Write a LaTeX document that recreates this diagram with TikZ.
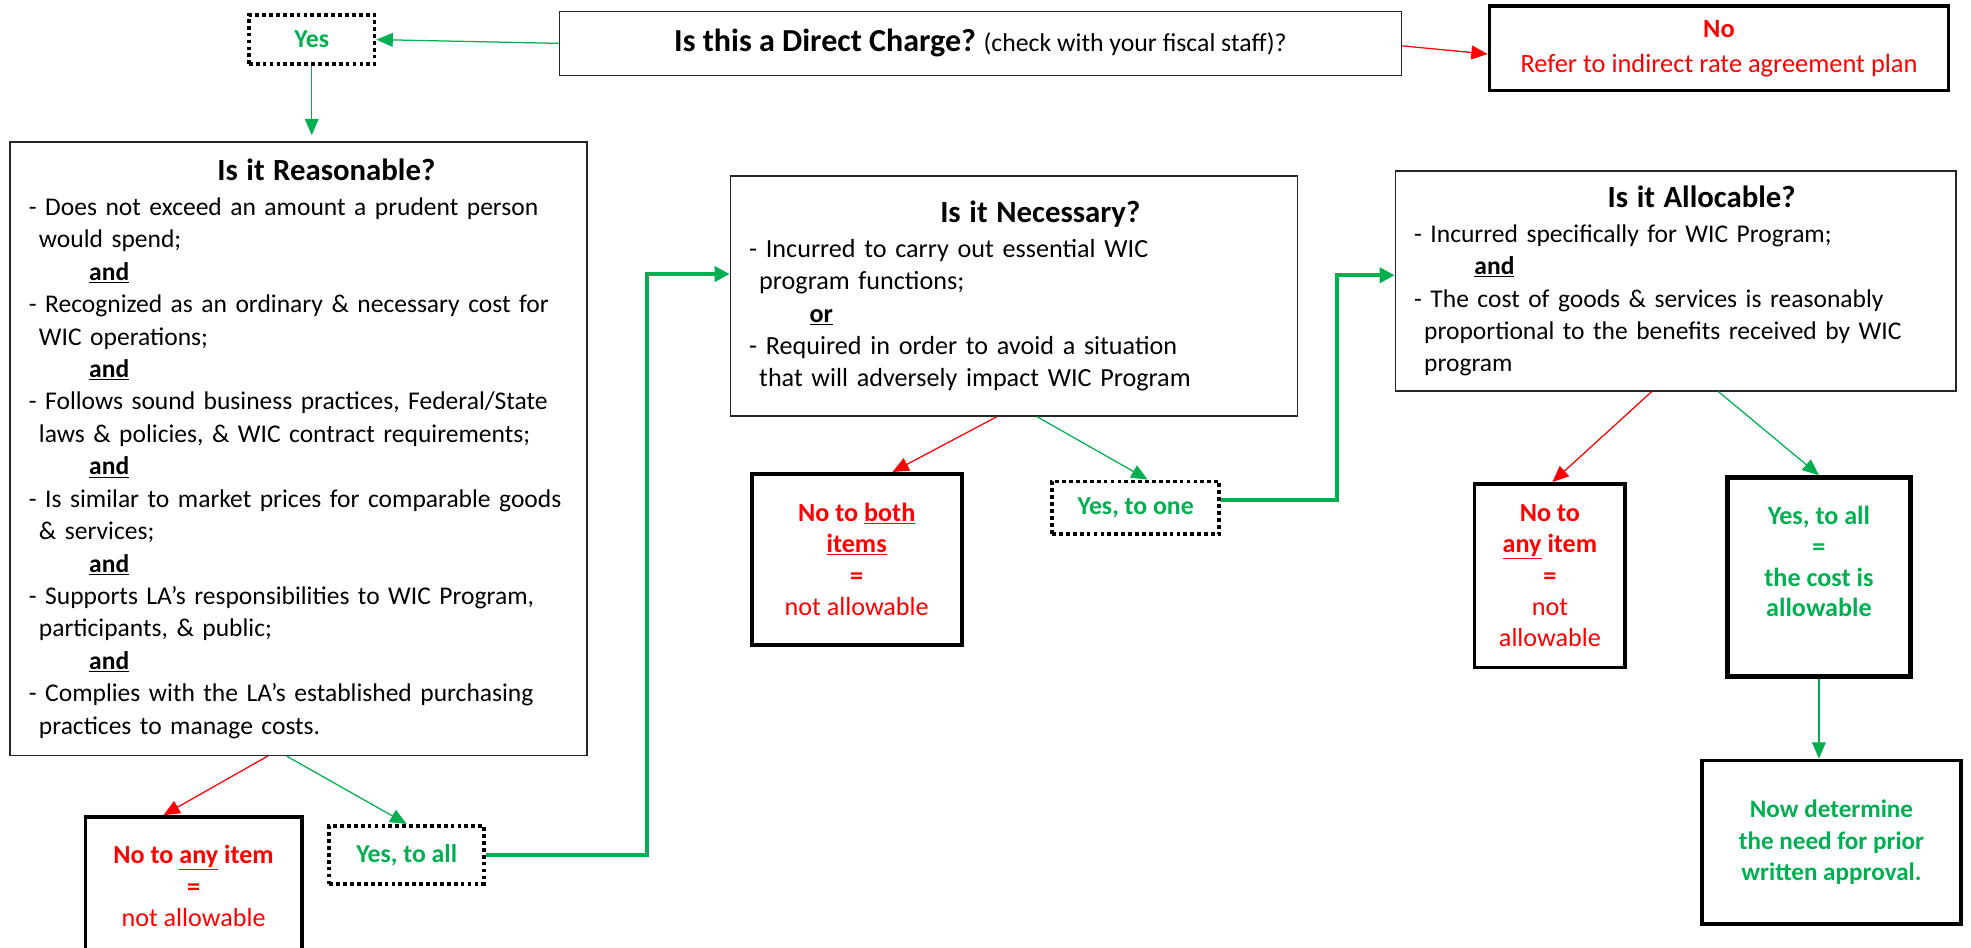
\documentclass[tikz,border=0pt]{standalone}
\usepackage{fontspec}
\setmainfont{Carlito}
\usepackage{tikz}
\usetikzlibrary{arrows.meta,positioning,calc}
\definecolor{okgreen}{HTML}{00B050}
\definecolor{nored}{HTML}{FF0000}
\newcommand\titlefont{\bfseries\fontsize{24.5}{28}\selectfont}
\newcommand\andword[1]{\underline{\textbf{#1}}}
\tikzset{
  qbox/.style={draw=black!85, line width=1pt, align=left, inner xsep=15pt,
               font=\fontsize{20.3}{25.8}\selectfont},
  endbox/.style={draw, line width=3pt, align=center,
                 font=\fontsize{20.8}{25}\selectfont},
  dotbox/.style={draw, line width=3pt, dash pattern=on 3pt off 2.5pt,
                 align=center, font=\bfseries\fontsize{20.5}{25}\selectfont, text=okgreen},
  thinarrow/.style={line width=1pt, -{Triangle[length=13pt,width=11pt]}},
  route/.style={draw=okgreen, line width=3pt, -{Triangle[length=12pt,width=12pt]}}
}
\begin{document}
\begin{tikzpicture}[x=1pt,y=-1pt]
  \useasboundingbox (0,0) rectangle (1568,754);

  % top row
  \node[dotbox, minimum width=100pt, minimum height=39pt] (yes) at (248,31.5) {Yes};
  \node[qbox, align=center, minimum width=670pt, minimum height=51pt] (direct) at (780,34.5)
    {{\bfseries\fontsize{25.5}{28}\selectfont Is this a Direct Charge?} {\fontsize{20.5}{24}\selectfont (check with your fiscal staff)?}};
  \node[endbox, text=nored, minimum width=365pt, minimum height=67pt, font=\fontsize{21}{28}\selectfont] (nobox) at (1367.5,38.5)
    {\textbf{No}\\Refer to indirect rate agreement plan};

  % question boxes
  \node[qbox, minimum width=459pt, minimum height=488pt, text width=429pt] (reason) at (237.5,357) {%
    \hspace*{150pt}{\titlefont Is it Reasonable?}\\[2pt]
    - Does not exceed an amount a prudent person\\
    \hspace*{8pt}would spend;\\
    \hspace*{48pt}\andword{and}\\
    - Recognized as an ordinary \& necessary cost for\\
    \hspace*{8pt}WIC operations;\\
    \hspace*{48pt}\andword{and}\\
    - Follows sound business practices, Federal/State\\
    \hspace*{8pt}laws \& policies, \& WIC contract requirements;\\
    \hspace*{48pt}\andword{and}\\
    - Is similar to market prices for comparable goods\\
    \hspace*{8pt}\& services;\\
    \hspace*{48pt}\andword{and}\\
    - Supports LA’s responsibilities to WIC Program,\\
    \hspace*{8pt}participants, \& public;\\
    \hspace*{48pt}\andword{and}\\
    - Complies with the LA’s established purchasing\\
    \hspace*{8pt}practices to manage costs.};
  \node[qbox, minimum width=451pt, minimum height=191pt, text width=421pt,
        font=\fontsize{20.8}{25.8}\selectfont] (necess) at (806.5,235.5) {%
    \hspace*{152pt}{\titlefont Is it Necessary?}\\[2pt]
    - Incurred to carry out essential WIC\\
    \hspace*{8pt}program functions;\\
    \hspace*{48pt}\andword{or}\\
    - Required in order to avoid a situation\\
    \hspace*{8pt}that will adversely impact WIC Program};
  \node[qbox, minimum width=446pt, minimum height=175pt, text width=416pt] (alloc) at (1333,223.5) {%
    \hspace*{154pt}{\titlefont Is it Allocable?}\\[2pt]
    - Incurred specifically for WIC Program;\\
    \hspace*{48pt}\andword{and}\\
    - The cost of goods \& services is reasonably\\
    \hspace*{8pt}proportional to the benefits received by WIC\\
    \hspace*{8pt}program};

  % answer boxes
  \node[endbox, text=nored, minimum width=172pt, minimum height=110pt] (noany) at (154,705)
    {\textbf{No to \underline{any} item}\\\textbf{=}\\not allowable};
  \node[dotbox, minimum width=123pt, minimum height=46pt] (yesall) at (323.5,680) {Yes, to all};
  \node[endbox, text=nored, minimum width=167pt, minimum height=136pt] (noboth) at (681.5,445)
    {\textbf{No to \underline{both}}\\\textbf{\underline{items}}\\\textbf{=}\\not allowable};
  \node[dotbox, minimum width=133pt, minimum height=42pt] (yesone) at (903.5,404) {Yes, to one};
  \node[endbox, text=nored, minimum width=120pt, minimum height=146pt] (noanytwo) at (1233,458)
    {\textbf{No to}\\\textbf{\underline{any} item}\\\textbf{=}\\not\\allowable};
  \node[endbox, line width=4pt, text=okgreen, minimum width=146pt, minimum height=158pt,
        font=\bfseries\fontsize{20.8}{24.5}\selectfont] (yesalltwo) at (1447,459)
    {Yes, to all\\=\\the cost is\\allowable\\\mbox{}};
  \node[endbox, text=okgreen, minimum width=206pt, minimum height=130pt,
        font=\bfseries\fontsize{20}{25}\selectfont] (final) at (1457,670)
    {Now determine\\the need for prior\\written approval.};

  % connectors
  \draw[thinarrow, okgreen] (direct.west) -- (yes.east);
  \draw[thinarrow, nored] ([yshift=-2pt]direct.east) -- ([yshift=-4.5pt]nobox.west);
  \draw[thinarrow, okgreen, shorten >=5pt] (yes.south) -- (yes.south |- reason.north);

  \draw[thinarrow, nored] ([xshift=-24.5pt]reason.south) -- ([xshift=-24pt]noany.north);
  \draw[thinarrow, okgreen] ([xshift=-9.5pt]reason.south) -- (yesall.north);
  \draw[route] (yesall.east) -- ++(128,0) |- ([yshift=17.5pt]necess.west);

  \draw[thinarrow, nored] ([xshift=-13.5pt]necess.south) -- ([xshift=28.5pt]noboth.north);
  \draw[thinarrow, okgreen] ([xshift=18.5pt]necess.south) -- ([xshift=9.5pt]yesone.north);
  \draw[route] ([yshift=6pt]yesone.east) -- ++(92,0) |- ([yshift=4.5pt]alloc.west);

  \draw[thinarrow, nored] ([xshift=-19pt]alloc.south) -- ([xshift=2pt]noanytwo.north);
  \draw[thinarrow, okgreen] ([xshift=34pt]alloc.south) -- (yesalltwo.north);
  \draw[thinarrow, okgreen] (yesalltwo.south) -- (yesalltwo.south |- final.north);
\end{tikzpicture}
\end{document}
